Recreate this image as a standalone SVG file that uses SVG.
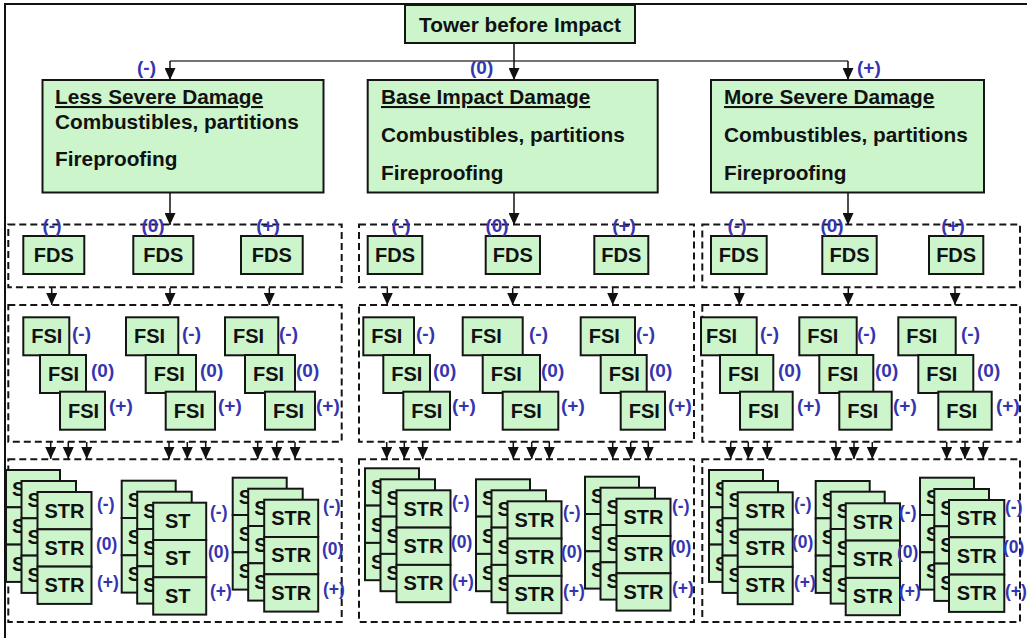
<svg xmlns="http://www.w3.org/2000/svg" width="1027" height="638" viewBox="0 0 1027 638">
<defs>
<style>
.bx{fill:#ccf5cc;stroke:#151515;stroke-width:2}
.dz{fill:none;stroke:#151515;stroke-width:2;stroke-dasharray:7 4}
.t{font-family:"Liberation Sans",Arial,Helvetica,sans-serif;font-weight:bold;font-size:20px;fill:#111}
.h{font-family:"Liberation Sans",Arial,Helvetica,sans-serif;font-weight:bold;font-size:20.8px;fill:#111}
.c{text-anchor:middle}
.l{font-family:"Liberation Sans",Arial,Helvetica,sans-serif;font-weight:bold;font-size:19px;fill:#3535b0}
.ls{font-size:17.5px}
.ar{stroke:#111;stroke-width:1.5;fill:none;marker-end:url(#ah)}
</style>
<marker id="ah" viewBox="0 0 12 11" refX="12" refY="5.5" markerWidth="12" markerHeight="11" markerUnits="userSpaceOnUse" orient="auto"><path d="M0,0 L12,5.5 L0,11 z" fill="#111"/></marker>
</defs>
<rect width="1027" height="638" fill="#fff"/>
<path d="M5,638 V4 H1027" fill="none" stroke="#111" stroke-width="2"/>

<g id="groups">
<rect class="dz" x="8.3" y="224.5" width="333.4" height="62.8"/>
<rect class="dz" x="359" y="224.5" width="335" height="62.8"/>
<rect class="dz" x="702.3" y="224.5" width="317.7" height="62.8"/>
<rect class="dz" x="8.3" y="305" width="333.4" height="136.7"/>
<rect class="dz" x="359" y="305" width="335" height="136.7"/>
<rect class="dz" x="702.3" y="305" width="317.7" height="136.7"/>
<rect class="dz" x="8.3" y="459.3" width="333.4" height="162.7"/>
<rect class="dz" x="359" y="459.3" width="335" height="162.7"/>
<rect class="dz" x="702.3" y="459.3" width="317.7" height="162.7"/>
</g>

<g id="connectors">
<line x1="170" y1="61" x2="848" y2="61" stroke="#444" stroke-width="1.5"/>
<line class="ar" x1="170" y1="61" x2="170" y2="80"/>
<line class="ar" x1="514" y1="43" x2="514" y2="80"/>
<line class="ar" x1="848" y1="61" x2="848" y2="80"/>
<line class="ar" x1="170" y1="193" x2="170" y2="225"/>
<line class="ar" x1="514" y1="193" x2="514" y2="225"/>
<line class="ar" x1="848" y1="193" x2="848" y2="225"/>
<line class="ar" x1="51.7" y1="288" x2="51.7" y2="305"/>
<line class="ar" x1="170" y1="288" x2="170" y2="305"/>
<line class="ar" x1="269.3" y1="288" x2="269.3" y2="305"/>
<line class="ar" x1="387.3" y1="288" x2="387.3" y2="305"/>
<line class="ar" x1="512.7" y1="288" x2="512.7" y2="305"/>
<line class="ar" x1="612.7" y1="288" x2="612.7" y2="305"/>
<line class="ar" x1="739.3" y1="288" x2="739.3" y2="305"/>
<line class="ar" x1="848.3" y1="288" x2="848.3" y2="305"/>
<line class="ar" x1="955" y1="288" x2="955" y2="305"/>
<line class="ar" x1="50.7" y1="442" x2="50.7" y2="459"/>
<line class="ar" x1="68.3" y1="442" x2="68.3" y2="459"/>
<line class="ar" x1="86.7" y1="442" x2="86.7" y2="459"/>
<line class="ar" x1="169" y1="442" x2="169" y2="459"/>
<line class="ar" x1="187.3" y1="442" x2="187.3" y2="459"/>
<line class="ar" x1="205.7" y1="442" x2="205.7" y2="459"/>
<line class="ar" x1="257.7" y1="442" x2="257.7" y2="459"/>
<line class="ar" x1="276.7" y1="442" x2="276.7" y2="459"/>
<line class="ar" x1="295" y1="442" x2="295" y2="459"/>
<line class="ar" x1="386.7" y1="442" x2="386.7" y2="459"/>
<line class="ar" x1="404.3" y1="442" x2="404.3" y2="459"/>
<line class="ar" x1="422.7" y1="442" x2="422.7" y2="459"/>
<line class="ar" x1="513.3" y1="442" x2="513.3" y2="459"/>
<line class="ar" x1="531.7" y1="442" x2="531.7" y2="459"/>
<line class="ar" x1="549.3" y1="442" x2="549.3" y2="459"/>
<line class="ar" x1="612.7" y1="442" x2="612.7" y2="459"/>
<line class="ar" x1="630.7" y1="442" x2="630.7" y2="459"/>
<line class="ar" x1="648.3" y1="442" x2="648.3" y2="459"/>
<line class="ar" x1="730.7" y1="442" x2="730.7" y2="459"/>
<line class="ar" x1="748.3" y1="442" x2="748.3" y2="459"/>
<line class="ar" x1="767.3" y1="442" x2="767.3" y2="459"/>
<line class="ar" x1="836" y1="442" x2="836" y2="459"/>
<line class="ar" x1="854" y1="442" x2="854" y2="459"/>
<line class="ar" x1="872.3" y1="442" x2="872.3" y2="459"/>
<line class="ar" x1="946.7" y1="442" x2="946.7" y2="459"/>
<line class="ar" x1="965" y1="442" x2="965" y2="459"/>
<line class="ar" x1="983.3" y1="442" x2="983.3" y2="459"/>
</g>

<g id="tower"><rect class="bx" x="405" y="5" width="230" height="38"/><text class="h c" x="520" y="32">Tower before Impact</text></g>

<g id="less"><rect class="bx" x="42.5" y="80" width="281" height="112.5"/>
<text class="h" x="55" y="104" text-decoration="underline">Less Severe Damage</text>
<text class="h" x="55" y="129">Combustibles, partitions</text>
<text class="h" x="55" y="166">Fireproofing</text></g>
<g id="base"><rect class="bx" x="367.7" y="80" width="290" height="112.5"/>
<text class="h" x="381" y="104" text-decoration="underline">Base Impact Damage</text>
<text class="h" x="381" y="142">Combustibles, partitions</text>
<text class="h" x="381" y="180">Fireproofing</text></g>
<g id="more"><rect class="bx" x="711" y="80" width="273" height="112.5"/>
<text class="h" x="724" y="104" text-decoration="underline">More Severe Damage</text>
<text class="h" x="724" y="142">Combustibles, partitions</text>
<text class="h" x="724" y="180">Fireproofing</text></g>

<g id="fds-L1"><rect class="bx" x="23.3" y="236" width="61" height="38"/><text class="t c" x="53.8" y="262">FDS</text></g>
<g id="fds-L2"><rect class="bx" x="133.3" y="236" width="60" height="38"/><text class="t c" x="163.3" y="262">FDS</text></g>
<g id="fds-L3"><rect class="bx" x="241" y="236" width="61.7" height="38"/><text class="t c" x="271.85" y="262">FDS</text></g>
<g id="fds-M1"><rect class="bx" x="367.7" y="236" width="54.6" height="38"/><text class="t c" x="395" y="262">FDS</text></g>
<g id="fds-M2"><rect class="bx" x="485.7" y="236" width="54.3" height="38"/><text class="t c" x="512.85" y="262">FDS</text></g>
<g id="fds-M3"><rect class="bx" x="594.3" y="236" width="54" height="38"/><text class="t c" x="621.3" y="262">FDS</text></g>
<g id="fds-R1"><rect class="bx" x="711" y="236" width="55.7" height="38"/><text class="t c" x="738.85" y="262">FDS</text></g>
<g id="fds-R2"><rect class="bx" x="822.3" y="236" width="54.4" height="38"/><text class="t c" x="849.5" y="262">FDS</text></g>
<g id="fds-R3"><rect class="bx" x="929" y="236" width="54.3" height="38"/><text class="t c" x="956.15" y="262">FDS</text></g>

<g id="fsi-L1">
<rect class="bx" x="23.3" y="317.3" width="46" height="38"/><text class="t" x="31.3" y="343.3">FSI</text>
<rect class="bx" x="40" y="355" width="46" height="38"/><text class="t" x="48" y="381">FSI</text>
<rect class="bx" x="60" y="391.7" width="45" height="38"/><text class="t" x="68" y="417.7">FSI</text></g>
<g id="fsi-L2">
<rect class="bx" x="126" y="317.3" width="52.3" height="38"/><text class="t" x="134" y="343.3">FSI</text>
<rect class="bx" x="145.7" y="355" width="50.3" height="38"/><text class="t" x="153.7" y="381">FSI</text>
<rect class="bx" x="165.7" y="391.7" width="49.3" height="38"/><text class="t" x="173.7" y="417.7">FSI</text></g>
<g id="fsi-L3">
<rect class="bx" x="225" y="317.3" width="53.3" height="38"/><text class="t" x="233" y="343.3">FSI</text>
<rect class="bx" x="245" y="355" width="50" height="38"/><text class="t" x="253" y="381">FSI</text>
<rect class="bx" x="265" y="391.7" width="50" height="38"/><text class="t" x="273" y="417.7">FSI</text></g>
<g id="fsi-M1">
<rect class="bx" x="363.3" y="317.3" width="50.7" height="38"/><text class="t" x="371.3" y="343.3">FSI</text>
<rect class="bx" x="383.3" y="355" width="46.7" height="38"/><text class="t" x="391.3" y="381">FSI</text>
<rect class="bx" x="403.3" y="391.7" width="46.7" height="38"/><text class="t" x="411.3" y="417.7">FSI</text></g>
<g id="fsi-M2">
<rect class="bx" x="462.7" y="317.3" width="60" height="38"/><text class="t" x="470.7" y="343.3">FSI</text>
<rect class="bx" x="482.7" y="355" width="57.3" height="38"/><text class="t" x="490.7" y="381">FSI</text>
<rect class="bx" x="502.7" y="391.7" width="55.6" height="38"/><text class="t" x="510.7" y="417.7">FSI</text></g>
<g id="fsi-M3">
<rect class="bx" x="580.7" y="317.3" width="54.3" height="38"/><text class="t" x="588.7" y="343.3">FSI</text>
<rect class="bx" x="600.7" y="355" width="46" height="38"/><text class="t" x="608.7" y="381">FSI</text>
<rect class="bx" x="620.7" y="391.7" width="44.3" height="38"/><text class="t" x="628.7" y="417.7">FSI</text></g>
<g id="fsi-R1">
<rect class="bx" x="701" y="317.3" width="55.7" height="38"/><text class="t" x="706" y="343.3">FSI</text>
<rect class="bx" x="720" y="355" width="53.3" height="38"/><text class="t" x="728" y="381">FSI</text>
<rect class="bx" x="740" y="391.7" width="52.7" height="38"/><text class="t" x="748" y="417.7">FSI</text></g>
<g id="fsi-R2">
<rect class="bx" x="799.3" y="317.3" width="57.4" height="38"/><text class="t" x="807.3" y="343.3">FSI</text>
<rect class="bx" x="819.3" y="355" width="54" height="38"/><text class="t" x="827.3" y="381">FSI</text>
<rect class="bx" x="839.3" y="391.7" width="52.4" height="38"/><text class="t" x="847.3" y="417.7">FSI</text></g>
<g id="fsi-R3">
<rect class="bx" x="898.3" y="317.3" width="57.4" height="38"/><text class="t" x="906.3" y="343.3">FSI</text>
<rect class="bx" x="918.3" y="355" width="55" height="38"/><text class="t" x="926.3" y="381">FSI</text>
<rect class="bx" x="938.3" y="391.7" width="53.4" height="38"/><text class="t" x="946.3" y="417.7">FSI</text></g>

<g id="str-L1" transform="translate(6,470)">
<rect class="bx" x="0" y="0" width="54" height="37.3"/><rect class="bx" x="0" y="37.3" width="54" height="37.3"/><rect class="bx" x="0" y="74.6" width="54" height="37.3"/>
<text class="t" x="6" y="26">S</text><text class="t" x="6" y="63.3">S</text><text class="t" x="6" y="100.6">S</text>
<rect class="bx" x="15.5" y="11" width="54.5" height="37.3"/><rect class="bx" x="15.5" y="48.3" width="54.5" height="37.3"/><rect class="bx" x="15.5" y="85.6" width="54.5" height="37.3"/>
<text class="t" x="21.5" y="37">S</text><text class="t" x="21.5" y="74.3">S</text><text class="t" x="21.5" y="111.6">S</text>
<rect class="bx" x="31.5" y="22" width="54" height="37.3"/><rect class="bx" x="31.5" y="59.3" width="54" height="37.3"/><rect class="bx" x="31.5" y="96.6" width="54" height="37.3"/>
<text class="t c" x="58.5" y="47.5">STR</text><text class="t c" x="58.5" y="84.8">STR</text><text class="t c" x="58.5" y="122.1">STR</text>
</g>
<g id="str-L2" transform="translate(121.7,480.7)">
<rect class="bx" x="0" y="0" width="54" height="37.3"/><rect class="bx" x="0" y="37.3" width="54" height="37.3"/><rect class="bx" x="0" y="74.6" width="54" height="37.3"/>
<text class="t" x="6" y="26">S</text><text class="t" x="6" y="63.3">S</text><text class="t" x="6" y="100.6">S</text>
<rect class="bx" x="15.5" y="11" width="54.5" height="37.3"/><rect class="bx" x="15.5" y="48.3" width="54.5" height="37.3"/><rect class="bx" x="15.5" y="85.6" width="54.5" height="37.3"/>
<text class="t" x="21.5" y="37">S</text><text class="t" x="21.5" y="74.3">S</text><text class="t" x="21.5" y="111.6">S</text>
<rect class="bx" x="31.5" y="22" width="53" height="37.3"/><rect class="bx" x="31.5" y="59.3" width="53" height="37.3"/><rect class="bx" x="31.5" y="96.6" width="53" height="37.3"/>
<text class="t c" x="56" y="47.5">ST</text><text class="t c" x="56" y="84.8">ST</text><text class="t c" x="56" y="122.1">ST</text>
</g>
<g id="str-L3" transform="translate(232.7,477.7)">
<rect class="bx" x="0" y="0" width="54" height="37.3"/><rect class="bx" x="0" y="37.3" width="54" height="37.3"/><rect class="bx" x="0" y="74.6" width="54" height="37.3"/>
<text class="t" x="6" y="26">S</text><text class="t" x="6" y="63.3">S</text><text class="t" x="6" y="100.6">S</text>
<rect class="bx" x="15.5" y="11" width="54.5" height="37.3"/><rect class="bx" x="15.5" y="48.3" width="54.5" height="37.3"/><rect class="bx" x="15.5" y="85.6" width="54.5" height="37.3"/>
<text class="t" x="21.5" y="37">S</text><text class="t" x="21.5" y="74.3">S</text><text class="t" x="21.5" y="111.6">S</text>
<rect class="bx" x="31.5" y="22" width="54" height="37.3"/><rect class="bx" x="31.5" y="59.3" width="54" height="37.3"/><rect class="bx" x="31.5" y="96.6" width="54" height="37.3"/>
<text class="t c" x="58.5" y="47.5">STR</text><text class="t c" x="58.5" y="84.8">STR</text><text class="t c" x="58.5" y="122.1">STR</text>
</g>
<g id="str-M1" transform="translate(365,468.3)">
<rect class="bx" x="0" y="0" width="54" height="37.3"/><rect class="bx" x="0" y="37.3" width="54" height="37.3"/><rect class="bx" x="0" y="74.6" width="54" height="37.3"/>
<text class="t" x="6" y="26">S</text><text class="t" x="6" y="63.3">S</text><text class="t" x="6" y="100.6">S</text>
<rect class="bx" x="15.5" y="11" width="54.5" height="37.3"/><rect class="bx" x="15.5" y="48.3" width="54.5" height="37.3"/><rect class="bx" x="15.5" y="85.6" width="54.5" height="37.3"/>
<text class="t" x="21.5" y="37">S</text><text class="t" x="21.5" y="74.3">S</text><text class="t" x="21.5" y="111.6">S</text>
<rect class="bx" x="31.5" y="22" width="54" height="37.3"/><rect class="bx" x="31.5" y="59.3" width="54" height="37.3"/><rect class="bx" x="31.5" y="96.6" width="54" height="37.3"/>
<text class="t c" x="58.5" y="47.5">STR</text><text class="t c" x="58.5" y="84.8">STR</text><text class="t c" x="58.5" y="122.1">STR</text>
</g>
<g id="str-M2" transform="translate(476,479.3)">
<rect class="bx" x="0" y="0" width="54" height="37.3"/><rect class="bx" x="0" y="37.3" width="54" height="37.3"/><rect class="bx" x="0" y="74.6" width="54" height="37.3"/>
<text class="t" x="6" y="26">S</text><text class="t" x="6" y="63.3">S</text><text class="t" x="6" y="100.6">S</text>
<rect class="bx" x="15.5" y="11" width="54.5" height="37.3"/><rect class="bx" x="15.5" y="48.3" width="54.5" height="37.3"/><rect class="bx" x="15.5" y="85.6" width="54.5" height="37.3"/>
<text class="t" x="21.5" y="37">S</text><text class="t" x="21.5" y="74.3">S</text><text class="t" x="21.5" y="111.6">S</text>
<rect class="bx" x="31.5" y="22" width="54" height="37.3"/><rect class="bx" x="31.5" y="59.3" width="54" height="37.3"/><rect class="bx" x="31.5" y="96.6" width="54" height="37.3"/>
<text class="t c" x="58.5" y="47.5">STR</text><text class="t c" x="58.5" y="84.8">STR</text><text class="t c" x="58.5" y="122.1">STR</text>
</g>
<g id="str-M3" transform="translate(585,476.7)">
<rect class="bx" x="0" y="0" width="54" height="37.3"/><rect class="bx" x="0" y="37.3" width="54" height="37.3"/><rect class="bx" x="0" y="74.6" width="54" height="37.3"/>
<text class="t" x="6" y="26">S</text><text class="t" x="6" y="63.3">S</text><text class="t" x="6" y="100.6">S</text>
<rect class="bx" x="15.5" y="11" width="54.5" height="37.3"/><rect class="bx" x="15.5" y="48.3" width="54.5" height="37.3"/><rect class="bx" x="15.5" y="85.6" width="54.5" height="37.3"/>
<text class="t" x="21.5" y="37">S</text><text class="t" x="21.5" y="74.3">S</text><text class="t" x="21.5" y="111.6">S</text>
<rect class="bx" x="31.5" y="22" width="54" height="37.3"/><rect class="bx" x="31.5" y="59.3" width="54" height="37.3"/><rect class="bx" x="31.5" y="96.6" width="54" height="37.3"/>
<text class="t c" x="58.5" y="47.5">STR</text><text class="t c" x="58.5" y="84.8">STR</text><text class="t c" x="58.5" y="122.1">STR</text>
</g>
<g id="str-R1" transform="translate(709,470)">
<rect class="bx" x="0" y="0" width="54" height="37.3"/><rect class="bx" x="0" y="37.3" width="54" height="37.3"/><rect class="bx" x="0" y="74.6" width="54" height="37.3"/>
<text class="t" x="6" y="26">S</text><text class="t" x="6" y="63.3">S</text><text class="t" x="6" y="100.6">S</text>
<rect class="bx" x="13.5" y="11" width="55.5" height="37.3"/><rect class="bx" x="13.5" y="48.3" width="55.5" height="37.3"/><rect class="bx" x="13.5" y="85.6" width="55.5" height="37.3"/>
<text class="t" x="19.5" y="37">S</text><text class="t" x="19.5" y="74.3">S</text><text class="t" x="19.5" y="111.6">S</text>
<rect class="bx" x="28.7" y="22.3" width="55" height="37.3"/><rect class="bx" x="28.7" y="59.6" width="55" height="37.3"/><rect class="bx" x="28.7" y="96.9" width="55" height="37.3"/>
<text class="t c" x="56.2" y="47.8">STR</text><text class="t c" x="56.2" y="85.1">STR</text><text class="t c" x="56.2" y="122.4">STR</text>
</g>
<g id="str-R2" transform="translate(815.7,481)">
<rect class="bx" x="0" y="0" width="54" height="37.3"/><rect class="bx" x="0" y="37.3" width="54" height="37.3"/><rect class="bx" x="0" y="74.6" width="54" height="37.3"/>
<text class="t" x="6" y="26">S</text><text class="t" x="6" y="63.3">S</text><text class="t" x="6" y="100.6">S</text>
<rect class="bx" x="15" y="10.7" width="54" height="37.3"/><rect class="bx" x="15" y="48" width="54" height="37.3"/><rect class="bx" x="15" y="85.3" width="54" height="37.3"/>
<text class="t" x="21" y="36.7">S</text><text class="t" x="21" y="74">S</text><text class="t" x="21" y="111.3">S</text>
<rect class="bx" x="30" y="22.3" width="54.3" height="37.3"/><rect class="bx" x="30" y="59.6" width="54.3" height="37.3"/><rect class="bx" x="30" y="96.9" width="54.3" height="37.3"/>
<text class="t c" x="57.15" y="47.8">STR</text><text class="t c" x="57.15" y="85.1">STR</text><text class="t c" x="57.15" y="122.4">STR</text>
</g>
<g id="str-R3" transform="translate(920,477.7)">
<rect class="bx" x="0" y="0" width="54" height="37.3"/><rect class="bx" x="0" y="37.3" width="54" height="37.3"/><rect class="bx" x="0" y="74.6" width="54" height="37.3"/>
<text class="t" x="6" y="26">S</text><text class="t" x="6" y="63.3">S</text><text class="t" x="6" y="100.6">S</text>
<rect class="bx" x="14.3" y="11.3" width="54.7" height="37.3"/><rect class="bx" x="14.3" y="48.6" width="54.7" height="37.3"/><rect class="bx" x="14.3" y="85.9" width="54.7" height="37.3"/>
<text class="t" x="20.3" y="37.3">S</text><text class="t" x="20.3" y="74.6">S</text><text class="t" x="20.3" y="111.9">S</text>
<rect class="bx" x="29" y="22.3" width="55.3" height="37.3"/><rect class="bx" x="29" y="59.6" width="55.3" height="37.3"/><rect class="bx" x="29" y="96.9" width="55.3" height="37.3"/>
<text class="t c" x="56.65" y="47.8">STR</text><text class="t c" x="56.65" y="85.1">STR</text><text class="t c" x="56.65" y="122.4">STR</text>
</g>

<g id="labels">
<text class="l" x="137" y="74">(-)</text>
<text class="l" x="470" y="74">(0)</text>
<text class="l" x="857" y="74">(+)</text>
<text class="l c" x="52" y="232">(-)</text><text class="l c" x="153" y="232">(0)</text><text class="l c" x="268" y="232">(+)</text>
<text class="l c" x="401" y="232">(-)</text><text class="l c" x="497" y="232">(0)</text><text class="l c" x="624" y="232">(+)</text>
<text class="l c" x="737" y="232">(-)</text><text class="l c" x="832" y="232">(0)</text><text class="l c" x="953" y="232">(+)</text>
<text class="l" x="72" y="340">(-)</text><text class="l" x="91" y="377">(0)</text><text class="l" x="109" y="412">(+)</text>
<text class="l" x="182" y="340">(-)</text><text class="l" x="200" y="377">(0)</text><text class="l" x="218" y="412">(+)</text>
<text class="l" x="279" y="340">(-)</text><text class="l" x="296" y="377">(0)</text><text class="l" x="316" y="412">(+)</text>
<text class="l" x="416" y="340">(-)</text><text class="l" x="433" y="377">(0)</text><text class="l" x="452" y="412">(+)</text>
<text class="l" x="529" y="340">(-)</text><text class="l" x="541" y="377">(0)</text><text class="l" x="561" y="412">(+)</text>
<text class="l" x="636" y="340">(-)</text><text class="l" x="649" y="377">(0)</text><text class="l" x="668" y="412">(+)</text>
<text class="l" x="760" y="340">(-)</text><text class="l" x="778" y="377">(0)</text><text class="l" x="797" y="412">(+)</text>
<text class="l" x="857" y="340">(-)</text><text class="l" x="875" y="377">(0)</text><text class="l" x="893" y="412">(+)</text>
<text class="l" x="961" y="340">(-)</text><text class="l" x="977" y="377">(0)</text><text class="l" x="996" y="412">(+)</text>
<text class="l ls" x="97" y="510">(-)</text><text class="l ls" x="96" y="550">(0)</text><text class="l ls" x="97" y="588">(+)</text>
<text class="l ls" x="210" y="518">(-)</text><text class="l ls" x="208" y="558">(0)</text><text class="l ls" x="210" y="597">(+)</text>
<text class="l ls" x="323" y="512">(-)</text><text class="l ls" x="322" y="555">(0)</text><text class="l ls" x="323" y="595">(+)</text>
<text class="l ls" x="452" y="508">(-)</text><text class="l ls" x="451" y="548">(0)</text><text class="l ls" x="452" y="587">(+)</text>
<text class="l ls" x="563" y="518">(-)</text><text class="l ls" x="561" y="558">(0)</text><text class="l ls" x="563" y="597">(+)</text>
<text class="l ls" x="672" y="512">(-)</text><text class="l ls" x="670" y="553">(0)</text><text class="l ls" x="672" y="594">(+)</text>
<text class="l ls" x="794" y="510">(-)</text><text class="l ls" x="792" y="548">(0)</text><text class="l ls" x="794" y="588">(+)</text>
<text class="l ls" x="899" y="518">(-)</text><text class="l ls" x="897" y="558">(0)</text><text class="l ls" x="899" y="597">(+)</text>
<text class="l ls" x="1005" y="513">(-)</text><text class="l ls" x="1003" y="553">(0)</text><text class="l ls" x="1005" y="597">(+)</text>
</g>
</svg>
